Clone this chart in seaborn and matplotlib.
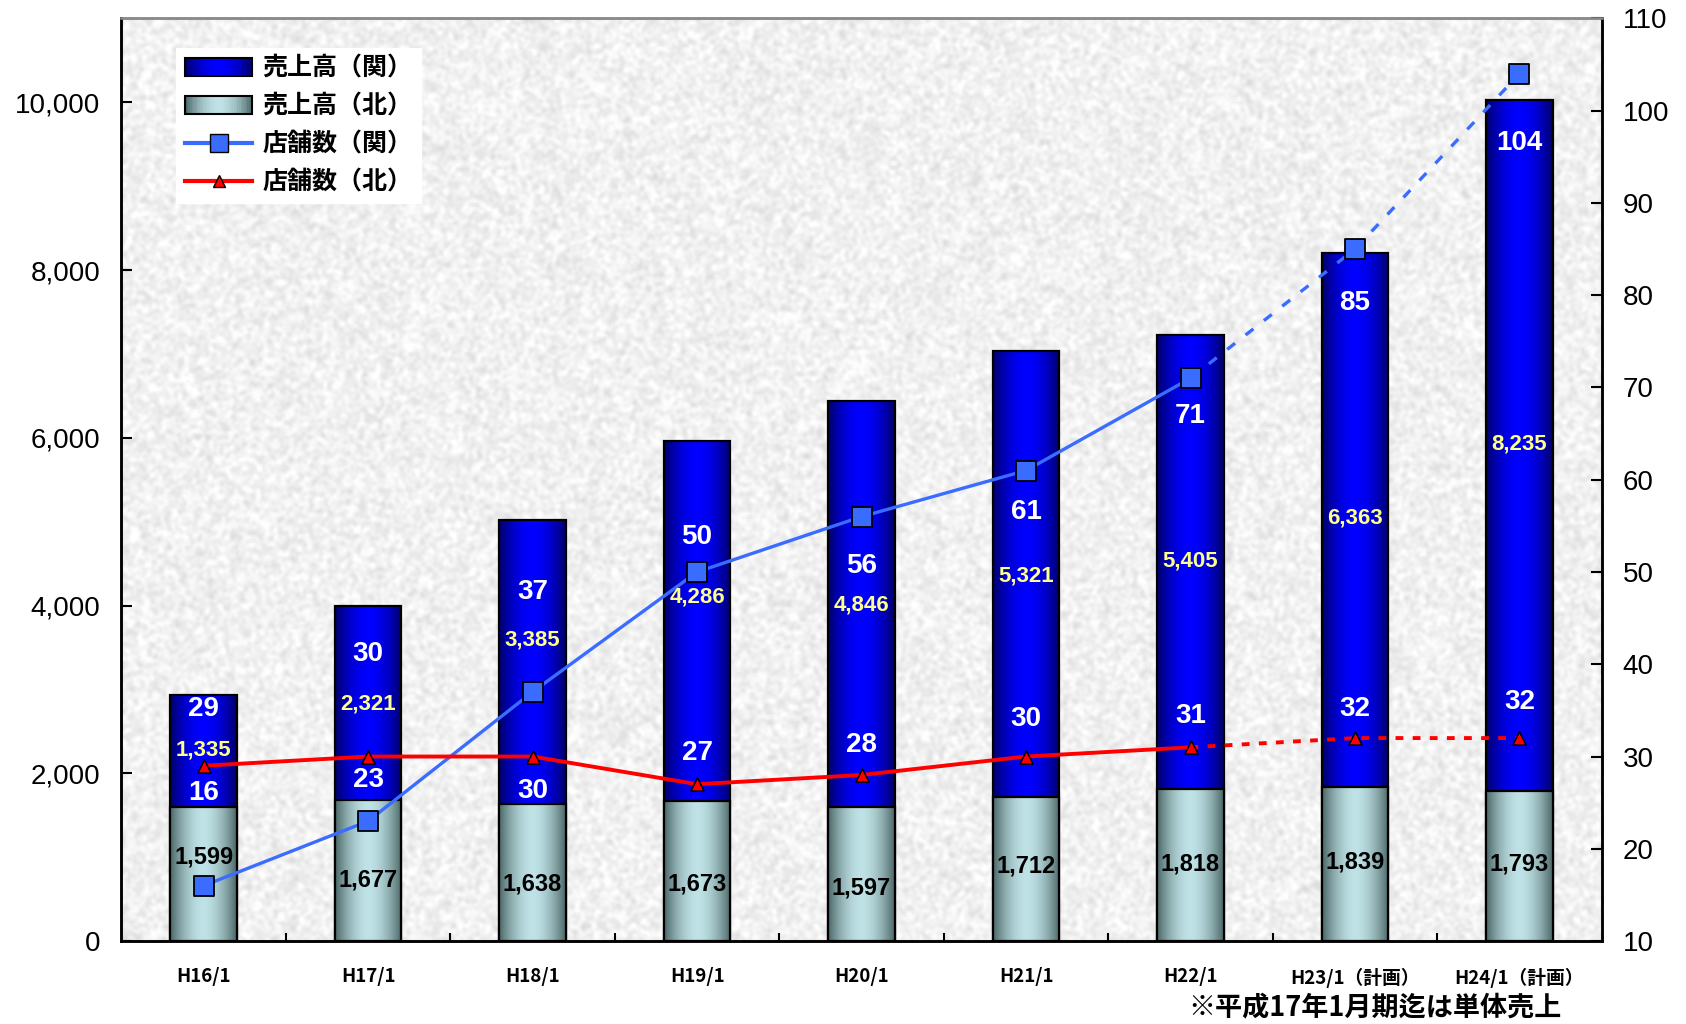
import numpy as np
import pandas as pd
import matplotlib
matplotlib.use("Agg")
import matplotlib.pyplot as plt
import seaborn as sns
from matplotlib.patches import Patch, Rectangle
from matplotlib.lines import Line2D
from matplotlib.colors import to_rgb
from matplotlib.legend_handler import HandlerBase
from matplotlib.ticker import FuncFormatter, MultipleLocator, FixedLocator

# --- data ---
periods = ["H16/1", "H17/1", "H18/1", "H19/1", "H20/1", "H21/1", "H22/1",
           "H23/1（計画）", "H24/1（計画）"]
sales_kan = [1335, 2321, 3385, 4286, 4846, 5321, 5405, 6363, 8235]
sales_kita = [1599, 1677, 1638, 1673, 1597, 1712, 1818, 1839, 1793]
stores_kan = [16, 23, 37, 50, 56, 61, 71, 85, 104]
stores_kita = [29, 30, 30, 27, 28, 30, 31, 32, 32]
n_actual = 7  # H22/1 is the last actual, the rest are plans

# where the value labels sit (layout only)
upper_count_y = [35.1, 41.1, 47.8, 53.8, 50.7, 56.5, 66.9, 79.2, 96.5]
lower_count_y = [26.1, 27.5, 26.3, 30.4, 31.2, 34.1, 34.4, 35.2, 35.9]
kan_label_y = [2275, 2828, 3586, 4100, 4010, 4357, 4537, 5039, 5925]
kita_label_y = [1003, 733, 681, 681, 630, 900, 913, 938, 913]

JP = ["Noto Sans CJK JP", "DejaVu Sans"]
plt.rcParams["font.family"] = ["Liberation Sans", "Noto Sans CJK JP", "DejaVu Sans"]

fig = plt.figure(figsize=(16.86, 10.24), dpi=100)
ax = fig.add_axes([0.072, 0.081, 0.878, 0.901])

# granite-like backdrop
rng = np.random.default_rng(7)
noise = rng.random((420, 680))
k = np.array([0.25, 0.5, 0.25])
noise = np.apply_along_axis(lambda r: np.convolve(r, k, "same"), 1, noise)
noise = np.apply_along_axis(lambda r: np.convolve(r, k, "same"), 0, noise)
tex = np.clip(0.945 + 0.24 * (noise - 0.5), 0, 1)
ax.imshow(tex, cmap="gray", vmin=0, vmax=1, extent=(0, 1, 0, 1),
          transform=ax.transAxes, aspect="auto", zorder=0, interpolation="bilinear")

df = pd.DataFrame({"period": periods,
                   "total": np.add(sales_kan, sales_kita),
                   "kita": sales_kita})

sns.barplot(data=df, x="period", y="total", ax=ax, width=0.405, color="blue",
            edgecolor="black", linewidth=1.6, errorbar=None, zorder=2)
kan_patches = list(ax.patches)
sns.barplot(data=df, x="period", y="kita", ax=ax, width=0.405, color="gray",
            edgecolor="black", linewidth=1.6, errorbar=None, zorder=3)
kita_patches = list(ax.patches)[len(kan_patches):]

KAN_EDGE, KAN_MID = "#00006a", "#0000ff"
KITA_EDGE, KITA_MID = "#4d6868", "#bfe2e6"


def gradient_row(edge, center, n=64):
    t = np.linspace(0, 1, n)
    s = 1 - np.abs(2 * t - 1) ** 1.8
    e, c = np.array(to_rgb(edge)), np.array(to_rgb(center))
    return (e[None, :] + (c - e)[None, :] * s[:, None])[None, :, :]


def fill_gradient(patch, edge, center, z):
    x0, y0 = patch.get_x(), patch.get_y()
    w, h = patch.get_width(), patch.get_height()
    ax.imshow(gradient_row(edge, center), extent=(x0, x0 + w, y0, y0 + h),
              aspect="auto", zorder=z, interpolation="bilinear")
    patch.set_facecolor("none")
    patch.set_zorder(z + 0.1)


for p in kan_patches:
    fill_gradient(p, KAN_EDGE, KAN_MID, 2)
for p in kita_patches:
    fill_gradient(p, KITA_EDGE, KITA_MID, 3)

ax.set_xlim(-0.5, len(periods) - 0.5)
ax.set_ylim(0, 11000)
ax.set_xlabel("")
ax.set_ylabel("")
ax.yaxis.set_major_locator(MultipleLocator(2000))
ax.yaxis.set_major_formatter(FuncFormatter(lambda v, _: f"{int(v):,}" if v <= 10000 else ""))
ax.set_xticks(range(len(periods)))
ax.set_xticklabels(periods, fontfamily=JP, fontweight="bold", fontsize=13.5)
ax.xaxis.set_minor_locator(FixedLocator(np.arange(0.5, len(periods) - 1, 1)))
ax.tick_params(axis="x", which="major", length=0, pad=19)
ax.tick_params(axis="x", which="minor", direction="in", length=6, width=1.5)
ax.tick_params(axis="y", direction="in", length=8, width=1.5, labelsize=20, pad=15)

# store counts on the right axis
ax2 = ax.twinx()
xs = np.arange(len(periods))
dfl = pd.DataFrame({"x": xs, "kan": stores_kan, "kita": stores_kita})
act = dfl.iloc[:n_actual]
plan = dfl.iloc[n_actual - 1:]
blue, red = "#3a6cff", "#ff0000"
sns.lineplot(data=act, x="x", y="kan", ax=ax2, color=blue, lw=2.4, zorder=4)
sns.lineplot(data=plan, x="x", y="kan", ax=ax2, color=blue, lw=2.4,
             linestyle=(0, (3, 4)), zorder=4)
sns.lineplot(data=act, x="x", y="kita", ax=ax2, color=red, lw=2.8, zorder=4)
sns.lineplot(data=plan, x="x", y="kita", ax=ax2, color=red, lw=2.8,
             linestyle=(0, (2, 2.4)), zorder=4)
sns.scatterplot(data=dfl, x="x", y="kan", ax=ax2, marker="s", s=190, color=blue,
                edgecolor="black", linewidth=1.3, zorder=5)
sns.scatterplot(data=dfl, x="x", y="kita", ax=ax2, marker="^", s=90, color=red,
                edgecolor="black", linewidth=1.1, zorder=5)
ax2.set_ylim(10, 110)
ax2.set_xlim(-0.5, len(periods) - 0.5)
ax2.set_xlabel("")
ax2.set_ylabel("")
ax2.yaxis.set_major_locator(MultipleLocator(10))
ax2.tick_params(axis="y", direction="in", length=8, width=1.5, labelsize=20, pad=15)

for a in (ax, ax2):
    for side in ("left", "bottom", "right"):
        a.spines[side].set_color("black")
        a.spines[side].set_linewidth(1.8)
    a.spines["top"].set_color("#8a8a8a")
    a.spines["top"].set_linewidth(1.8)

# value labels
for i in range(len(periods)):
    hi, lo = max(stores_kan[i], stores_kita[i]), min(stores_kan[i], stores_kita[i])
    ax2.text(i, upper_count_y[i], str(hi), ha="center", va="center", color="white",
             fontsize=20, fontweight="bold", zorder=6)
    ax2.text(i, lower_count_y[i], str(lo), ha="center", va="center", color="white",
             fontsize=20, fontweight="bold", zorder=6)
    ax2.text(i, kan_label_y[i], f"{sales_kan[i]:,}", transform=ax.transData,
             ha="center", va="center", color="#ffff8c", fontsize=16,
             fontweight="bold", zorder=6)
    ax2.text(i, kita_label_y[i], f"{sales_kita[i]:,}", transform=ax.transData,
             ha="center", va="center", color="black", fontsize=17,
             fontweight="bold", zorder=6)


class GradientHandler(HandlerBase):
    def __init__(self, edge, center):
        super().__init__()
        self.edge, self.center = edge, center

    def create_artists(self, legend, orig_handle, xdescent, ydescent,
                       width, height, fontsize, trans):
        row = gradient_row(self.edge, self.center, 40)[0]
        n = len(row)
        arts = [Rectangle((-xdescent + width * j / n, -ydescent), width / n * 1.05,
                          height, facecolor=c, edgecolor="none", transform=trans)
                for j, c in enumerate(row)]
        arts.append(Rectangle((-xdescent, -ydescent), width, height, facecolor="none",
                              edgecolor="black", lw=1.5, transform=trans))
        return arts


h_kan = Patch(facecolor=KAN_MID)
h_kita = Patch(facecolor=KITA_MID)
handles = [
    h_kan, h_kita,
    Line2D([], [], color=blue, lw=3, marker="s", markersize=13,
           markerfacecolor=blue, markeredgecolor="black"),
    Line2D([], [], color=red, lw=3, marker="^", markersize=9,
           markerfacecolor=red, markeredgecolor="black"),
]
labels = ["売上高（関）", "売上高（北）", "店舗数（関）", "店舗数（北）"]
leg = ax2.legend(handles, labels, loc="upper left", bbox_to_anchor=(0.037, 0.968),
                 frameon=True, fancybox=False, borderaxespad=0, handlelength=2.7,
                 labelspacing=0.56, handletextpad=0.4, borderpad=0.35,
                 handler_map={h_kan: GradientHandler(KAN_EDGE, KAN_MID),
                              h_kita: GradientHandler(KITA_EDGE, KITA_MID)},
                 prop={"family": JP, "weight": "bold", "size": 18})
leg.get_frame().set_facecolor("white")
leg.get_frame().set_edgecolor("white")
leg.get_frame().set_alpha(1)

fig.text(0.926, 0.016, "※平成17年1月期迄は単体売上", ha="right", va="center",
         fontfamily=JP, fontweight="bold", fontsize=19.5)

fig.savefig("out.png", dpi=100)
